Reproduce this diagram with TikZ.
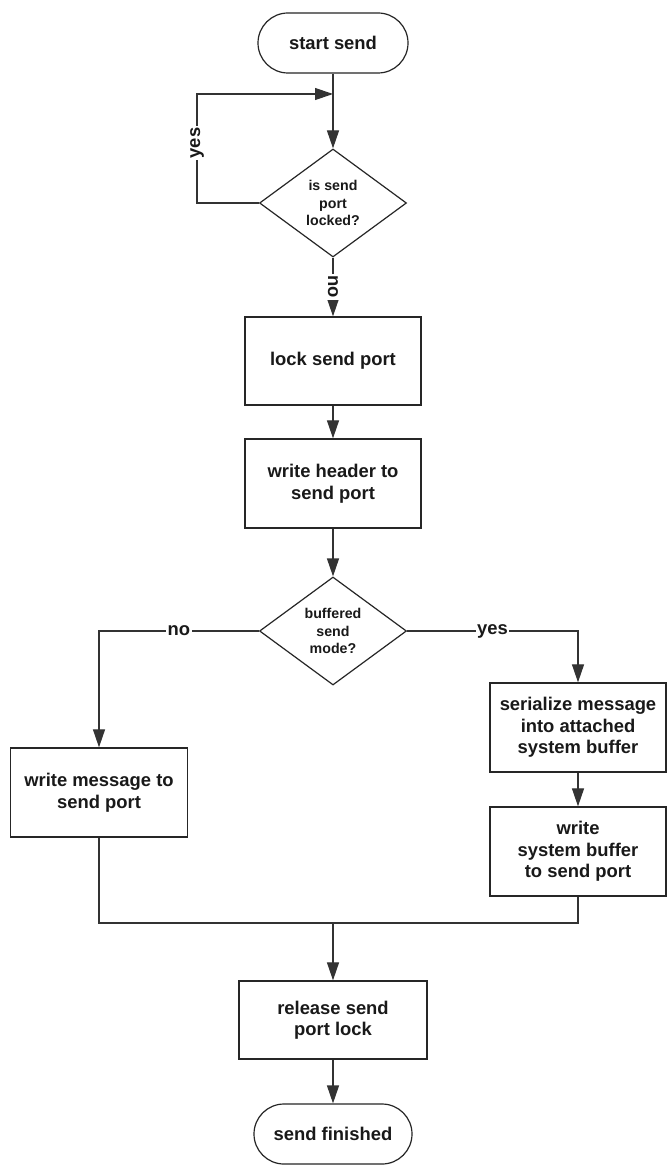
\documentclass[tikz,border=0pt]{standalone}
\usepackage{fontspec}
\setmainfont{Liberation Sans}
\usetikzlibrary{arrows.meta,shapes.geometric,shapes.misc}
\begin{document}
\begin{tikzpicture}[x=1pt,y=-1pt,
  line/.style={draw=black!80, line width=1.2pt},
  arr/.style={line, -{Triangle[length=18pt,width=12pt]}},
  txt/.style={font=\bfseries\fontsize{18.4}{21.5}\selectfont, text=black!90},
  proc/.style={txt, draw=black!85, line width=1.3pt, fill=white, align=center,
    inner sep=0pt, minimum width=176pt, minimum height=89pt},
  term/.style={txt, rounded rectangle, draw=black!85, line width=1.2pt, fill=white,
    inner sep=0pt, minimum width=150pt, minimum height=60pt},
  dec/.style={diamond, draw=black!85, line width=1.2pt, fill=white, align=center,
    inner sep=0pt, aspect=1.37, minimum width=147pt, minimum height=108pt,
    font=\bfseries\fontsize{14.2}{17.5}\selectfont, text=black!90},
  lab/.style={txt, fill=white, inner sep=1.5pt}
]
% page area
\fill[white] (0,0) rectangle (668,1169);

% nodes
\node[term] (start) at (333,43) {start send};
\node[dec] (d1) at (333,203) {is send\\port\\locked?};
\node[proc, minimum height=88pt] (lock) at (333,361) {lock send port};
\node[proc] (hdr) at (333,483.5) {write header to\\send port};
\node[dec] (d2) at (333,631) {buffered\\send\\mode?};
\node[proc, minimum width=177pt] (wmsg) at (99,792.5) {write message to\\send port};
\node[proc] (ser) at (578,727.5) {serialize message\\into attached\\system buffer};
\node[proc] (sbuf) at (578,851.5) {write\\system buffer\\to send port};
\node[proc, minimum width=188pt, minimum height=78pt] (rel) at (333,1020) {release send\\port lock};
\node[term, minimum width=158pt] (fin) at (333,1134) {send finished};

% helper points for the bent connectors
\coordinate (loopin) at (333,94);
\coordinate (loopbl) at (197,203);
\coordinate (looptl) at (197,94);
\coordinate (nocorner) at (99,631);
\coordinate (yescorner) at (578,631);
\coordinate (mergeL) at (99,923);
\coordinate (mergeR) at (578,923);
\coordinate (merge) at (333,923);

% connectors
\draw[arr] (start.south) -- (d1.north);
\draw[arr] (d1.west) -- (loopbl) -- node[lab, rotate=90, pos=0.55]{yes} (looptl) -- (loopin);
\draw[arr] (d1.south) -- node[lab, rotate=-90]{no} (lock.north);
\draw[arr] (lock) -- (hdr);
\draw[arr] (hdr) -- (d2);
\draw[arr] (d2.west) -- node[lab]{no} (nocorner) -- (wmsg.north);
\draw[arr] (d2.east) -- node[lab]{yes} (yescorner) -- (ser.north);
\draw[arr] (ser) -- (sbuf);
\draw[line] (wmsg.south) -- (mergeL) -- (mergeR) -- (sbuf.south);
\draw[arr] (merge) -- (rel);
\draw[arr] (rel) -- (fin);
\end{tikzpicture}
\end{document}
